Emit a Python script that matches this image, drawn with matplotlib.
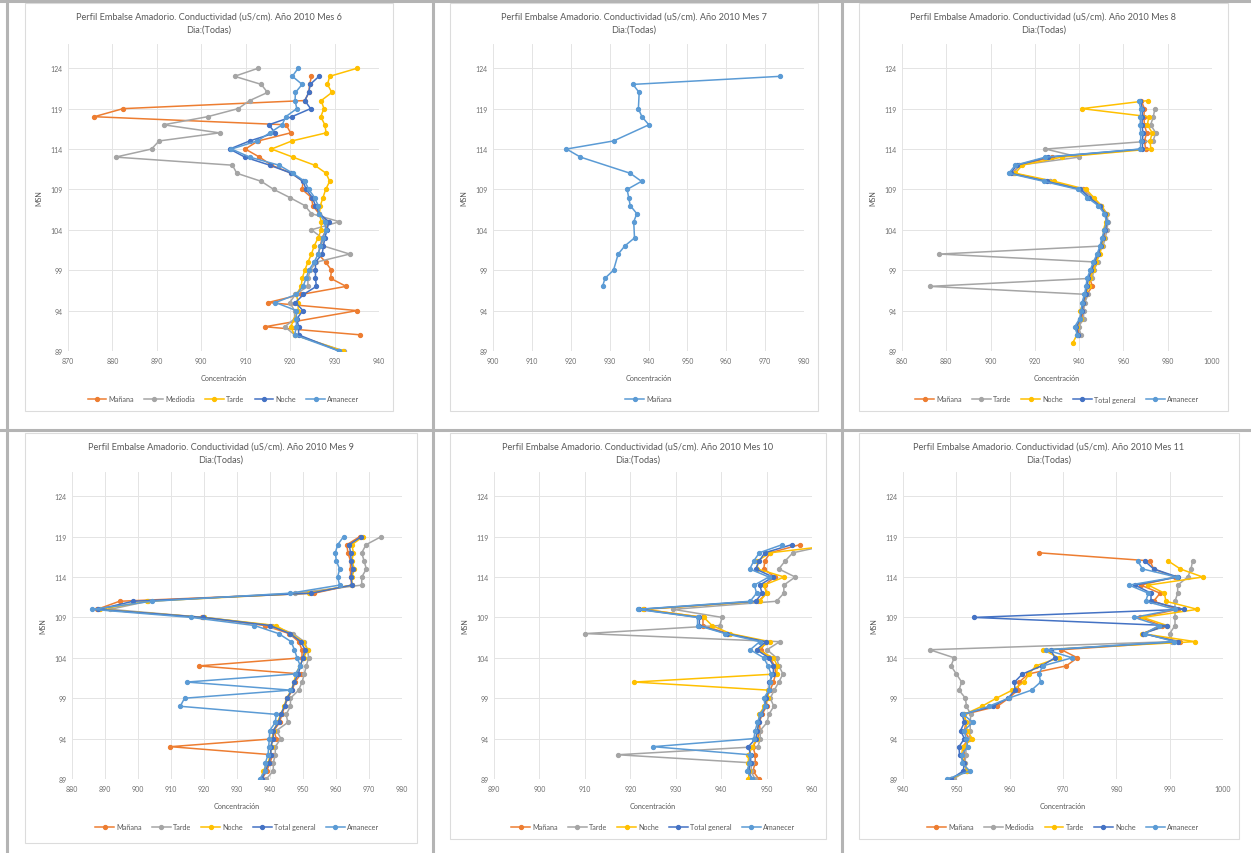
import numpy as np
import matplotlib
matplotlib.use("Agg")
import matplotlib.pyplot as plt
from matplotlib.patches import Rectangle
from matplotlib.lines import Line2D

plt.rcParams['font.family'] = ['Lato', 'DejaVu Sans']

nan = np.nan

# ---- Mes 6 ----
depth6 = list(range(89, 125))
man6 = [nan, nan, 935.8, 914.3, nan, 935.1, 915.0, 922.5, 932.6, 929.1, 929.3, 928.0,
        926.3, 926.8, 927.2, 928.1, 928.5, 926.5, 925.1, 924.8, 922.7, 922.9, 920.3, 915.8,
        913.1, 909.9, 912.8, 920.1, 919.1, 875.9, 882.4, 923.3, 924.2, 924.4, 924.8, nan]
med6 = [932.1, nan, 921.0, 918.8, 921.0, 921.0, 919.9, 921.2, 924.0, 924.0, 924.5, 925.9,
        933.4, 927.5, 927.2, 924.8, 931.1, 924.8, 923.3, 919.9, 916.3, 913.5, 908.0, 907.0,
        880.7, 888.8, 890.5, 904.1, 891.5, 901.4, 908.3, 910.9, 914.9, 913.5, 907.5, 912.8]
tar6 = [931.9, nan, 921.0, 920.1, 921.0, 921.8, 921.8, 921.4, 922.5, 922.7, 923.3, 924.0,
        924.8, 925.4, 926.3, 927.0, 927.0, 926.6, 926.8, 927.4, 928.0, 928.9, 928.1, 925.5,
        920.6, 915.8, 920.4, 928.1, 927.8, 926.9, 927.6, 927.0, 929.4, 928.4, 928.9, 935.1]
noc6 = [931.0, nan, 921.9, 921.9, 921.5, 922.9, 921.2, 923.0, 925.9, 925.7, 925.7, 925.7,
        927.2, 927.5, 927.8, 928.3, 928.7, 926.6, 925.7, 925.0, 923.6, 922.9, 920.3, 915.4,
        909.8, 906.4, 910.9, 916.6, 915.2, 920.4, 924.6, 923.3, 924.2, 924.5, 926.5, nan]
ama6 = [931.0, nan, 921.0, 921.4, 921.4, 921.4, 916.7, 921.4, 922.9, 923.6, 924.2, 925.4,
        926.3, 926.8, 927.4, 928.0, 927.8, 926.6, 926.3, 925.5, 924.2, 923.3, 920.6, 917.5,
        910.9, 906.8, 912.6, 915.4, 918.2, 919.0, 921.5, 921.1, 921.2, 922.7, 920.5, 921.8]

# ---- Mes 7 ----
depth7 = [97, 98, 99, 101, 102, 103, 105, 106, 107, 108, 109, 110, 111, 113, 114, 115,
          117, 118, 119, 121, 122, 123]
man7 = [928.2, 928.8, 931.0, 932.2, 933.9, 936.4, 936.2, 937.0, 935.3, 934.9, 934.5, 938.2,
        935.3, 922.5, 918.9, 931.0, 940.1, 938.3, 937.4, 937.6, 936.0, 973.9]

# ---- Mes 8 ----
depth8 = list(range(90, 121))
man8 = [nan, 940.0, 939.4, 941.2, 941.8, 942.4, 943.4, 946.0, 944.8, 946.0, 947.4, 949.0,
        950.2, 951.0, 952.0, 952.8, 952.2, 949.8, 945.8, 941.8, 926.7, 910.0, 913.0, 927.8,
        970.0, 969.5, 970.5, 969.5, 969.2, 969.5, 968.0]
tar8 = [nan, 940.8, 939.8, 942.0, 942.0, 942.6, 944.0, 872.5, 946.0, 946.5, 948.5, 876.9,
        950.8, 951.8, 952.6, 953.0, 952.6, 950.0, 946.0, 941.0, 926.7, 910.5, 913.0, 940.0,
        924.8, 973.4, 974.6, 972.3, 973.5, 974.2, nan]
noc8 = [937.1, 939.0, 939.0, 940.8, 940.5, 941.8, 943.0, 944.5, 945.0, 946.4, 947.8, 949.4,
        950.2, 951.0, 951.0, 952.0, 952.2, 950.0, 946.6, 943.2, 928.8, 911.2, 914.2, 932.3,
        972.4, 972.0, 973.0, 970.8, 971.5, 941.3, 971.2]
tot8 = [nan, 939.6, 938.8, 940.6, 941.4, 941.8, 942.9, 943.6, 944.2, 945.5, 946.9, 948.5,
        949.8, 950.7, 951.7, 952.6, 951.8, 949.2, 944.6, 940.6, 925.3, 909.0, 911.9, 926.0,
        968.6, 968.6, 968.8, 968.4, 968.5, 968.6, 967.6]
ama8 = [nan, 939.2, 938.0, 940.2, 941.0, 941.3, 942.4, 943.1, 943.6, 945.0, 946.4, 948.1,
        949.4, 950.3, 951.4, 952.4, 951.4, 948.6, 943.6, 939.5, 924.0, 908.2, 911.2, 924.8,
        967.7, 967.8, 967.8, 967.6, 967.7, 967.8, 966.9]

# ---- Mes 9 ----
depth9 = list(range(89, 120))
man9 = [937.6, 939.0, 940.0, 940.8, 909.8, 941.9, 941.2, 942.9, 943.6, 944.5, 945.3, 946.8,
        947.5, 949.4, 918.4, 949.7, 949.7, 948.7, 945.8, 938.4, 919.5, 887.6, 894.4, 953.4,
        964.8, 964.4, 964.4, 964.4, 963.6, 963.3, 967.2]
tar9 = [938.9, 941.0, 941.0, 941.6, 941.6, 943.3, 942.0, 945.4, 944.9, 946.2, 946.2, 948.7,
        949.7, 950.4, 951.0, 951.7, 951.4, 950.4, 947.0, 940.6, 920.0, 891.6, 903.0, 947.7,
        967.8, 967.8, 969.2, 968.5, 967.8, 969.1, 973.7]
noc9 = [937.4, 937.9, 939.5, 940.0, 940.5, 940.6, 941.1, 942.3, 943.2, 944.3, 945.0, 946.5,
        947.2, 947.9, 949.0, 950.2, 951.4, 950.0, 946.2, 941.7, 920.1, 888.5, 902.7, 951.7,
        964.8, 964.8, 965.6, 964.8, 965.3, 964.8, 968.2]
tot9 = [937.5, 938.6, 939.7, 940.3, 940.2, 941.0, 941.0, 942.6, 943.3, 944.4, 945.2, 946.6,
        947.3, 948.6, 949.2, 950.0, 950.6, 949.4, 946.0, 940.0, 919.8, 888.0, 898.5, 952.5,
        964.8, 964.6, 965.0, 964.6, 964.4, 964.0, 967.7]
ama9 = [936.9, 938.4, 938.6, 939.4, 939.6, 939.8, 939.9, 941.6, 941.9, 912.8, 914.1, 946.2,
        914.8, 947.7, 949.2, 948.2, 947.4, 946.4, 942.6, 935.3, 916.1, 886.1, 904.2, 946.2,
        961.1, 960.5, 961.1, 960.1, 959.8, 960.5, 962.3]

# ---- Mes 10 ----
depth10 = list(range(89, 119))
man10 = [948.3, 947.0, 947.5, 947.5, 947.0, 948.0, 948.6, 948.4, 949.0, 950.0, 950.0, 950.8,
         951.5, 952.0, 951.8, 950.7, 948.8, 949.8, 941.6, 936.0, 936.0, 923.0, 948.2, 950.0,
         949.6, 951.8, 949.4, 949.6, 950.8, 957.3]
tar10 = [947.5, 946.5, 946.8, 917.2, 948.1, 948.6, 948.6, 950.1, 950.5, 951.6, 950.8, 951.7,
         952.7, 953.6, 952.7, 952.2, 950.1, 952.9, 910.1, 939.7, 940.2, 929.5, 952.2, 953.8,
         953.8, 956.3, 952.7, 954.1, 955.8, 964.0]
noc10 = [946.0, 946.2, 946.0, 946.0, 946.9, 947.8, 948.0, 948.2, 948.4, 949.5, 950.3, 950.4,
         920.9, 952.2, 952.4, 951.5, 948.0, 950.7, 942.0, 938.0, 936.2, 922.9, 948.5, 950.0,
         949.4, 953.9, 948.0, 948.0, 950.8, 966.0]
tot10 = [946.8, 946.0, 946.5, 946.5, 946.0, 947.6, 948.0, 948.3, 948.8, 949.8, 949.8, 950.6,
         950.6, 951.5, 951.5, 950.5, 947.8, 949.8, 941.2, 935.2, 935.2, 922.0, 947.6, 949.0,
         948.5, 951.4, 947.6, 948.4, 949.6, 955.5]
ama10 = [946.8, 945.7, 946.2, 946.4, 925.0, 947.2, 947.5, 948.0, 948.6, 949.7, 949.4, 950.5,
         950.8, 951.0, 950.3, 949.4, 946.4, 948.5, 940.9, 934.8, 934.8, 921.6, 946.4, 947.8,
         947.3, 950.5, 946.3, 947.2, 948.4, 953.4]

# ---- Mes 11 ----
depth11 = list(range(89, 118))
man11 = [949.0, 952.0, 951.5, 951.6, 951.2, 952.4, 951.5, 951.8, 951.5, 957.7, 959.8, 961.5,
         961.8, 963.5, 970.6, 972.7, 969.7, 992.0, 985.0, 988.5, 984.5, 991.5, 987.0, 988.2,
         984.6, 991.0, 987.0, 986.3, 965.5]
med11 = [949.5, 951.8, 951.6, 951.8, 951.8, 952.4, 952.6, 952.6, 952.7, 951.9, 951.7, 950.5,
         951.0, 950.0, 949.0, 949.6, 945.0, 990.5, 990.0, 991.0, 991.0, 991.0, 991.0, 991.5,
         991.5, 993.4, 994.0, 994.3, nan]
tar11 = [949.0, 952.0, 951.5, 951.0, 951.2, 953.0, 952.0, 951.8, 951.5, 954.8, 957.5, 960.5,
         962.7, 963.6, 964.9, 969.2, 966.3, 994.8, 984.8, 989.5, 985.0, 995.2, 989.3, 989.0,
         986.0, 996.2, 992.0, 989.7, nan]
noc11 = [949.0, 951.3, 951.5, 950.6, 950.5, 951.5, 950.8, 951.5, 951.1, 956.9, 959.7, 961.0,
         960.9, 962.4, 966.0, 968.5, 967.7, 991.5, 985.0, 989.5, 953.3, 992.6, 986.5, 986.5,
         983.5, 991.5, 987.0, 985.3, nan]
ama11 = [948.3, 952.5, 951.1, 951.0, 952.1, 951.9, 951.4, 953.1, 951.3, 956.1, 959.8, 964.1,
         965.8, 965.5, 966.2, 971.7, 966.9, 990.9, 985.3, 988.0, 983.4, 991.0, 985.5, 986.0,
         982.4, 991.3, 984.9, 984.0, nan]

ORANGE, GRAY, YELLOW, DBLUE, LBLUE = '#ED7D31', '#A5A5A5', '#FFC000', '#4472C4', '#5B9BD5'
TXT = '#595959'

W, H = 1251, 854
fig = plt.figure(figsize=(W / 100, H / 100), dpi=100)
fig.patch.set_facecolor('white')


def fx(x):
    return x / W


def fy(y):
    return 1 - y / H


def panel(box, plot, mes, xlim, xstep, series):
    # box / plot: (left, top, right, bottom) in pixels
    bl, bt, br, bb = box
    fig.patches.append(Rectangle((fx(bl), fy(bb)), fx(br - bl), (bb - bt) / H,
                                 transform=fig.transFigure, fill=False,
                                 edgecolor='#DCDCDC', linewidth=0.8))
    l, t, r, b = plot
    ax = fig.add_axes([fx(l), fy(b), fx(r - l), (b - t) / H])
    for lab, col, d, v in series:
        d = np.array(d, float)
        v = np.array(v, float)
        ok = ~np.isnan(v)
        ax.plot(v[ok], d[ok], color=col, lw=1.1, marker='o', ms=2.8,
                mec=col, mfc=col, label=lab)
    ax.set_xlim(*xlim)
    ax.set_ylim(89, 127)
    ax.set_xticks(np.arange(xlim[0], xlim[1] + 0.1, xstep))
    ax.set_yticks(np.arange(89, 125, 5))
    ax.grid(True, color='#E4E4E4', lw=0.7)
    ax.set_axisbelow(True)
    for s in ax.spines.values():
        s.set_visible(False)
    ax.tick_params(length=0, labelsize=5, labelcolor='#6E6E6E', pad=4)
    cx = (bl + br) / 2
    fig.text(fx(cx), fy(bt + 13), 'Perfil Embalse Amadorio. Conductividad (uS/cm). Año 2010 Mes %d' % mes,
             ha='center', va='center', fontsize=6.6, color=TXT)
    fig.text(fx(cx), fy(bt + 26), 'Dia:(Todas)', ha='center', va='center', fontsize=6.6, color=TXT)
    fig.text(fx((l + r) / 2), fy(b + 27), 'Concentración', ha='center', va='center',
             fontsize=5.2, color=TXT)
    fig.text(fx(l - 29), fy((t + b) / 2), 'MSN', ha='center', va='center', rotation=90,
             fontsize=5, color=TXT)
    handles = [Line2D([], [], color=c, lw=1.1, marker='o', ms=2.8) for _, c, _, _ in series]
    fig.legend(handles, [s[0] for s in series], loc='center',
               bbox_to_anchor=(fx((l + r) / 2), fy(b + 48)), ncol=len(series),
               frameon=False, fontsize=5.2, labelcolor=TXT, handlelength=2.6,
               columnspacing=1.4, handletextpad=0.3, borderpad=0)
    return ax


panel((25, 4, 393, 412), (68, 45, 379, 352), 6, (870, 940), 10,
      [('Mañana', ORANGE, depth6, man6), ('Mediodia', GRAY, depth6, med6),
       ('Tarde', YELLOW, depth6, tar6), ('Noche', DBLUE, depth6, noc6),
       ('Amanecer', LBLUE, depth6, ama6)])
panel((450, 4, 818, 412), (493, 45, 804, 352), 7, (900, 980), 10,
      [('Mañana', LBLUE, depth7, man7)])
panel((859, 4, 1228, 412), (902, 45, 1212, 352), 8, (860, 1000), 20,
      [('Mañana', ORANGE, depth8, man8), ('Tarde', GRAY, depth8, tar8),
       ('Noche', YELLOW, depth8, noc8), ('Total general', DBLUE, depth8, tot8),
       ('Amanecer', LBLUE, depth8, ama8)])
panel((25, 434, 417, 844), (72, 473, 402, 780), 9, (880, 980), 10,
      [('Mañana', ORANGE, depth9, man9), ('Tarde', GRAY, depth9, tar9),
       ('Noche', YELLOW, depth9, noc9), ('Total general', DBLUE, depth9, tot9),
       ('Amanecer', LBLUE, depth9, ama9)])
panel((450, 434, 826, 840), (494, 473, 812, 780), 10, (890, 960), 10,
      [('Mañana', ORANGE, depth10, man10), ('Tarde', GRAY, depth10, tar10),
       ('Noche', YELLOW, depth10, noc10), ('Total general', DBLUE, depth10, tot10),
       ('Amanecer', LBLUE, depth10, ama10)])
panel((859, 434, 1239, 840), (903, 473, 1223, 780), 11, (940, 1000), 10,
      [('Mañana', ORANGE, depth11, man11), ('Mediodia', GRAY, depth11, med11),
       ('Tarde', YELLOW, depth11, tar11), ('Noche', DBLUE, depth11, noc11),
       ('Amanecer', LBLUE, depth11, ama11)])

# sheet cell dividers
sep = dict(color='#B4B4B4', lw=2.2, transform=fig.transFigure)
fig.add_artist(Line2D([0, 1], [fy(2), fy(2)], **sep))
fig.add_artist(Line2D([0, 1], [fy(431), fy(431)], **sep))
for xv in (7, 433, 842):
    fig.add_artist(Line2D([fx(xv), fx(xv)], [0, 1], **sep))

fig.savefig('out.png', dpi=100)
